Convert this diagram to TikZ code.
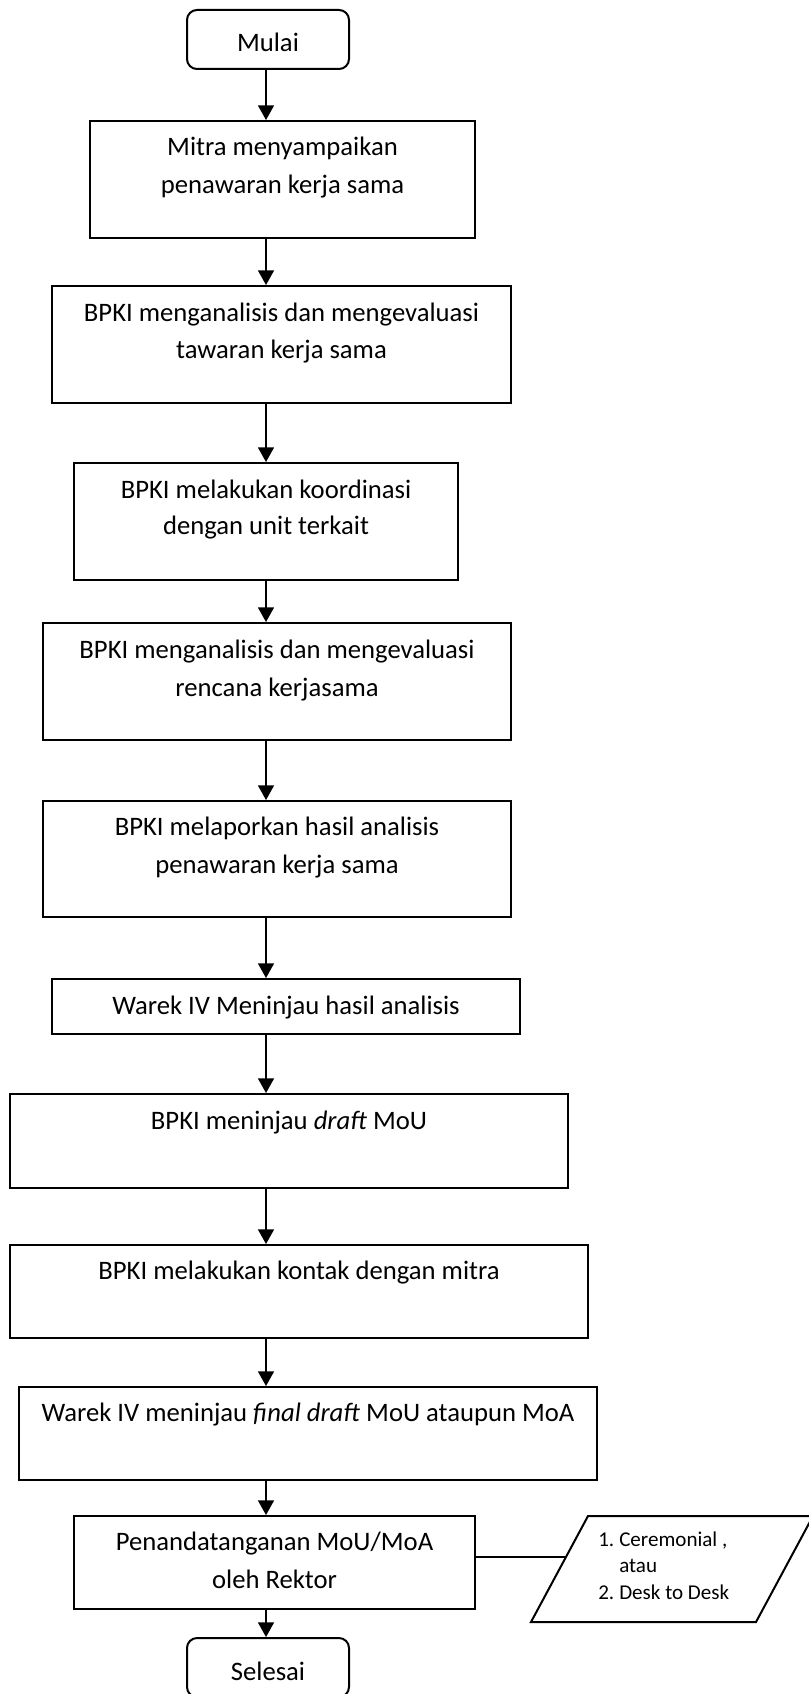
\documentclass[tikz,border=0pt]{standalone}
\usepackage{fontspec}
\setmainfont{Carlito}
\usetikzlibrary{arrows.meta,fit}
\begin{document}
\begin{tikzpicture}[x=0.75pt,y=-0.75pt,
  box/.style={draw,line width=1.5pt,inner sep=0pt},
  term/.style={box,rounded corners=7.5pt},
  txt/.style={anchor=base,inner sep=0pt,font=\fontsize{20}{28.5}\selectfont},
  small/.style={inner sep=0pt,anchor=base west,font=\fontsize{15.8}{20}\selectfont},
  arr/.style={line width=1.2pt,-{Triangle[length=11pt,width=12pt]}},
  link/.style={line width=1.2pt}]
\useasboundingbox (0,0) rectangle (809,1694);
\coordinate (ax) at (266,0);
% terminals
\node[term,fit={(187,10) (349,69)}] (mulai) {};
\node[txt] (tmulai) at (mulai.center |- 0,52) {Mulai};
\node[term,fit={(187,1638) (349,1697)}] (selesai) {};
\node[txt] (tselesai) at (selesai.center |- 0,1680) {Selesai};
% process boxes
\node[box,fit={(90,121) (475,238)}] (b1) {};
\node[txt] (t1a) at (b1.center |- 0,156) {Mitra menyampaikan};
\node[txt] (t1b) at (b1.center |- 0,194) {penawaran kerja sama};
\node[box,fit={(52,286) (511,403)}] (b2) {};
\node[txt] (t2a) at (b2.center |- 0,321) {BPKI menganalisis dan mengevaluasi};
\node[txt] (t2b) at (b2.center |- 0,358) {tawaran kerja sama};
\node[box,fit={(74,463) (458,580)}] (b3) {};
\node[txt] (t3a) at (b3.center |- 0,498) {BPKI melakukan koordinasi};
\node[txt] (t3b) at (b3.center |- 0,534) {dengan unit terkait};
\node[box,fit={(43,623) (511,740)}] (b4) {};
\node[txt] (t4a) at (b4.center |- 0,658) {BPKI menganalisis dan mengevaluasi};
\node[txt] (t4b) at (b4.center |- 0,696) {rencana kerjasama};
\node[box,fit={(43,801) (511,917)}] (b5) {};
\node[txt] (t5a) at (b5.center |- 0,835) {BPKI melaporkan hasil analisis};
\node[txt] (t5b) at (b5.center |- 0,873) {penawaran kerja sama};
\node[box,fit={(52,979) (520,1034)}] (b6) {};
\node[txt] (t6) at (b6.center |- 0,1014) {Warek IV Meninjau hasil analisis};
\node[box,fit={(10,1094) (568,1188)}] (b7) {};
\node[txt] (t7) at (b7.center |- 0,1129) {BPKI meninjau \textit{draft} MoU};
\node[box,fit={(10,1245) (588,1338)}] (b8) {};
\node[txt] (t8) at (b8.center |- 0,1279) {BPKI melakukan kontak dengan mitra};
\node[box,fit={(19,1387) (597,1480)}] (b9) {};
\node[txt] (t9) at (b9.center |- 0,1421) {Warek IV meninjau \textit{final draft} MoU ataupun MoA};
\node[box,fit={(74,1516) (475,1609)}] (b10) {};
\node[txt] (t10a) at (b10.center |- 0,1550) {Penandatanganan MoU/MoA};
\node[txt] (t10b) at (b10.center |- 0,1588) {oleh Rektor};
% data parallelogram
\coordinate (pbl) at (531,1622);
\coordinate (pbr) at (756,1622);
\coordinate (ptr) at (813,1516);
\coordinate (ptl) at (588,1516);
\draw[line width=1.5pt,line join=miter] (pbl) -- (pbr) -- (ptr) -- (ptl) -- cycle;
\coordinate (pin) at (565,1557);
\node[small] (tp) at (598,1546) {\begin{tabular}[t]{@{}l@{\hspace{3.75pt}}l@{}}1. & Ceremonial ,\\ & atau\\ 2. & Desk to Desk\end{tabular}};
% connectors
\draw[arr] (mulai.south -| ax) -- (b1.north -| ax);
\draw[arr] (b1.south -| ax) -- (b2.north -| ax);
\draw[arr] (b2.south -| ax) -- (b3.north -| ax);
\draw[arr] (b3.south -| ax) -- (b4.north -| ax);
\draw[arr] (b4.south -| ax) -- (b5.north -| ax);
\draw[arr] (b5.south -| ax) -- (b6.north -| ax);
\draw[arr] (b6.south -| ax) -- (b7.north -| ax);
\draw[arr] (b7.south -| ax) -- (b8.north -| ax);
\draw[arr] (b8.south -| ax) -- (b9.north -| ax);
\draw[arr] (b9.south -| ax) -- (b10.north -| ax);
\draw[arr] (b10.south -| ax) -- (selesai.north -| ax);
\draw[link] (b10.east |- pin) -- (pin);
\end{tikzpicture}
\end{document}
